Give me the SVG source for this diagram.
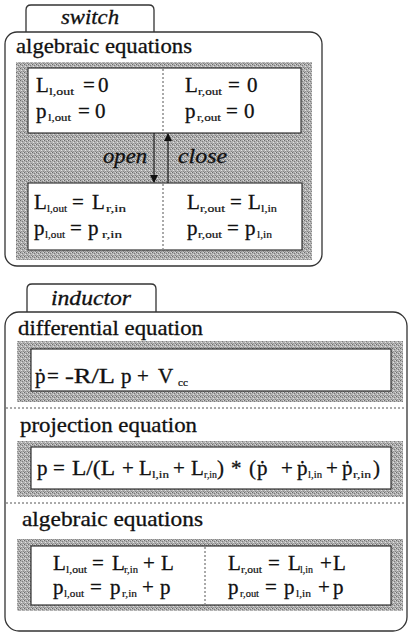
<svg xmlns="http://www.w3.org/2000/svg" width="410" height="635" viewBox="0 0 410 635" font-family="'Liberation Serif', 'DejaVu Serif', serif">
<style>
text{font-family:'Liberation Serif','DejaVu Serif',serif;fill:#111;stroke:#111;stroke-width:0.3}
.lbl{font-size:21px}
.tab{font-size:20px;font-style:italic}
.eq{font-size:21px}
.sub{font-size:10px;stroke-width:0.2}
.frame{fill:#fff;stroke:#333;stroke-width:1.3}
.grey{fill:url(#dith)}
.box{fill:#fff;stroke:#222;stroke-width:1.1}
.dot{stroke:#555;stroke-width:1;stroke-dasharray:2,2;fill:none}
.arr{stroke:#111;stroke-width:1.1;fill:none}
</style>
<defs>
<pattern id="dith" width="4" height="4" patternUnits="userSpaceOnUse">
<rect width="4" height="4" fill="#b2b2b2"/>
<rect x="0" y="0" width="1" height="1" fill="#6a6a6a"/>
<rect x="2" y="1" width="1" height="1" fill="#7c7c7c"/>
<rect x="1" y="2" width="1" height="1" fill="#e2e2e2"/>
<rect x="3" y="3" width="1" height="1" fill="#848484"/>
<rect x="3" y="0" width="1" height="1" fill="#d8d8d8"/>
<rect x="1" y="3" width="1" height="1" fill="#959595"/>
</pattern>
<marker id="ah" markerWidth="8" markerHeight="8" refX="7" refY="4" orient="auto" markerUnits="userSpaceOnUse">
<path d="M0,0 L8,4 L0,8 Z" fill="#111"/>
</marker>
</defs>
<rect width="410" height="635" fill="#fff"/>

<!-- SWITCH -->
<g id="switch">
<path class="frame" d="M26,32 V10 Q26,5 31,5 H149 Q154,5 154,10 V32"/>
<text class="tab" x="61" y="24" textLength="58" lengthAdjust="spacingAndGlyphs">switch</text>
<rect class="frame" x="5" y="32" width="317" height="234" rx="12"/>
<text class="lbl" x="16" y="53" textLength="176" lengthAdjust="spacingAndGlyphs">algebraic equations</text>
<rect class="grey" x="16" y="62" width="296" height="198"/>
</g>
<g id="switch-open-state">
<rect class="box" x="28" y="68" width="273" height="65"/>
<line class="dot" x1="163" y1="69" x2="163" y2="132"/>
<text class="eq" y="92"><tspan x="36">L</tspan><tspan class="sub" x="49" y="95" textLength="25" lengthAdjust="spacingAndGlyphs">l,out</tspan><tspan x="83" y="92">=</tspan><tspan x="98">0</tspan></text>
<text class="eq" y="118"><tspan x="36">p</tspan><tspan class="sub" x="48" y="121" textLength="23" lengthAdjust="spacingAndGlyphs">l,out</tspan><tspan x="78" y="118">=</tspan><tspan x="95">0</tspan></text>
<text class="eq" y="92"><tspan x="185">L</tspan><tspan class="sub" x="198" y="95" textLength="24" lengthAdjust="spacingAndGlyphs">r,out</tspan><tspan x="228" y="92">=</tspan><tspan x="247">0</tspan></text>
<text class="eq" y="118"><tspan x="185">p</tspan><tspan class="sub" x="197" y="121" textLength="24" lengthAdjust="spacingAndGlyphs">r,out</tspan><tspan x="226" y="118">=</tspan><tspan x="244">0</tspan></text>
</g>
<g id="switch-close-state">
<rect class="box" x="28" y="183" width="274" height="67"/>
<line class="dot" x1="163" y1="184" x2="163" y2="249"/>
<text class="eq" y="209"><tspan x="34">L</tspan><tspan class="sub" x="47" y="212" textLength="20" lengthAdjust="spacingAndGlyphs">l,out</tspan><tspan x="72" y="209">=</tspan><tspan x="92">L</tspan><tspan class="sub" x="106" y="212" textLength="20" lengthAdjust="spacingAndGlyphs">r,in</tspan></text>
<text class="eq" y="235"><tspan x="34">p</tspan><tspan class="sub" x="45" y="238" textLength="20" lengthAdjust="spacingAndGlyphs">l,out</tspan><tspan x="70" y="235">=</tspan><tspan x="88">p</tspan><tspan class="sub" x="102" y="238" textLength="20" lengthAdjust="spacingAndGlyphs">r,in</tspan></text>
<text class="eq" y="209"><tspan x="187">L</tspan><tspan class="sub" x="200" y="212" textLength="25" lengthAdjust="spacingAndGlyphs">r,out</tspan><tspan x="230" y="209">=</tspan><tspan x="248">L</tspan><tspan class="sub" x="261" y="212" textLength="16" lengthAdjust="spacingAndGlyphs">l,in</tspan></text>
<text class="eq" y="235"><tspan x="187">p</tspan><tspan class="sub" x="198" y="238" textLength="24" lengthAdjust="spacingAndGlyphs">r,out</tspan><tspan x="227" y="235">=</tspan><tspan x="245">p</tspan><tspan class="sub" x="257" y="238" textLength="15" lengthAdjust="spacingAndGlyphs">l,in</tspan></text>
</g>
<g id="connectors">
<line class="arr" x1="154" y1="133" x2="154" y2="182" marker-end="url(#ah)"/>
<line class="arr" x1="168" y1="183" x2="168" y2="134" marker-end="url(#ah)"/>
<text class="tab" x="103" y="163" textLength="44" lengthAdjust="spacingAndGlyphs">open</text>
<text class="tab" x="178" y="163" textLength="49" lengthAdjust="spacingAndGlyphs">close</text>
</g>

<!-- INDUCTOR -->
<g id="inductor">
<path class="frame" d="M27,312 V289 Q27,284 32,284 H151 Q156,284 156,289 V312"/>
<text class="tab" x="51" y="305" textLength="80" lengthAdjust="spacingAndGlyphs">inductor</text>
<rect class="frame" x="5" y="312" width="402" height="319" rx="14"/>
<line class="dot" x1="6" y1="408" x2="406" y2="408"/>
<line class="dot" x1="6" y1="503" x2="406" y2="503"/>
</g>
<g id="differential-equation">
<text class="lbl" x="18" y="335" textLength="185" lengthAdjust="spacingAndGlyphs">differential equation</text>
<rect class="grey" x="17" y="341" width="386" height="61"/>
<rect class="box" x="31" y="349" width="360" height="42"/>
<text class="eq" y="383"><tspan x="35">ṗ</tspan><tspan x="47">=</tspan><tspan x="65" textLength="50" lengthAdjust="spacingAndGlyphs">-R/L</tspan><tspan x="121">p</tspan><tspan x="137">+</tspan><tspan x="158">V</tspan><tspan class="sub" x="178" y="386" textLength="10" lengthAdjust="spacingAndGlyphs">cc</tspan></text>
</g>
<g id="projection-equation">
<text class="lbl" x="20" y="432" textLength="177" lengthAdjust="spacingAndGlyphs">projection equation</text>
<rect class="grey" x="17" y="441" width="386" height="56"/>
<rect class="box" x="31" y="447" width="360" height="42"/>
<text class="eq" y="475"><tspan x="37">p</tspan><tspan x="53">=</tspan><tspan x="72" textLength="43" lengthAdjust="spacingAndGlyphs">L/(L</tspan><tspan x="122">+</tspan><tspan x="139">L</tspan><tspan class="sub" x="152" y="478" textLength="17" lengthAdjust="spacingAndGlyphs">l,in</tspan><tspan x="173" y="475">+</tspan><tspan x="191">L</tspan><tspan class="sub" x="204" y="478" textLength="13" lengthAdjust="spacingAndGlyphs">r,in</tspan><tspan x="217" y="475">)</tspan><tspan x="231">*</tspan><tspan x="249">(</tspan><tspan x="257">ṗ</tspan><tspan x="281">+</tspan><tspan x="297">ṗ</tspan><tspan class="sub" x="308" y="478" textLength="14" lengthAdjust="spacingAndGlyphs">l,in</tspan><tspan x="326" y="475">+</tspan><tspan x="342">ṗ</tspan><tspan class="sub" x="353" y="478" textLength="18" lengthAdjust="spacingAndGlyphs">r,in</tspan><tspan x="373" y="475">)</tspan></text>
</g>
<g id="inductor-algebraic-equations">
<text class="lbl" x="22" y="526" textLength="181" lengthAdjust="spacingAndGlyphs">algebraic equations</text>
<rect class="grey" x="17" y="539" width="386" height="72"/>
<rect class="box" x="31" y="546" width="360" height="59"/>
<line class="dot" x1="205" y1="547" x2="205" y2="604"/>
<text class="eq" y="570"><tspan x="53">L</tspan><tspan class="sub" x="66" y="573" textLength="21" lengthAdjust="spacingAndGlyphs">l,out</tspan><tspan x="92" y="570">=</tspan><tspan x="112">L</tspan><tspan class="sub" x="124" y="573" textLength="14" lengthAdjust="spacingAndGlyphs">r,in</tspan><tspan x="143" y="570">+</tspan><tspan x="161">L</tspan></text>
<text class="eq" y="594"><tspan x="53">p</tspan><tspan class="sub" x="64" y="597" textLength="20" lengthAdjust="spacingAndGlyphs">l,out</tspan><tspan x="90" y="594">=</tspan><tspan x="110">p</tspan><tspan class="sub" x="122" y="597" textLength="15" lengthAdjust="spacingAndGlyphs">r,in</tspan><tspan x="142" y="594">+</tspan><tspan x="160">p</tspan></text>
<text class="eq" y="570"><tspan x="228">L</tspan><tspan class="sub" x="241" y="573" textLength="21" lengthAdjust="spacingAndGlyphs">r,out</tspan><tspan x="268" y="570">=</tspan><tspan x="288">L</tspan><tspan class="sub" x="300" y="573" textLength="13" lengthAdjust="spacingAndGlyphs">l,in</tspan><tspan x="320" y="570">+</tspan><tspan x="333">L</tspan></text>
<text class="eq" y="594"><tspan x="228">p</tspan><tspan class="sub" x="240" y="597" textLength="19" lengthAdjust="spacingAndGlyphs">r,out</tspan><tspan x="265" y="594">=</tspan><tspan x="284">p</tspan><tspan class="sub" x="296" y="597" textLength="15" lengthAdjust="spacingAndGlyphs">l,in</tspan><tspan x="318" y="594">+</tspan><tspan x="333">p</tspan></text>
</g>
</svg>
